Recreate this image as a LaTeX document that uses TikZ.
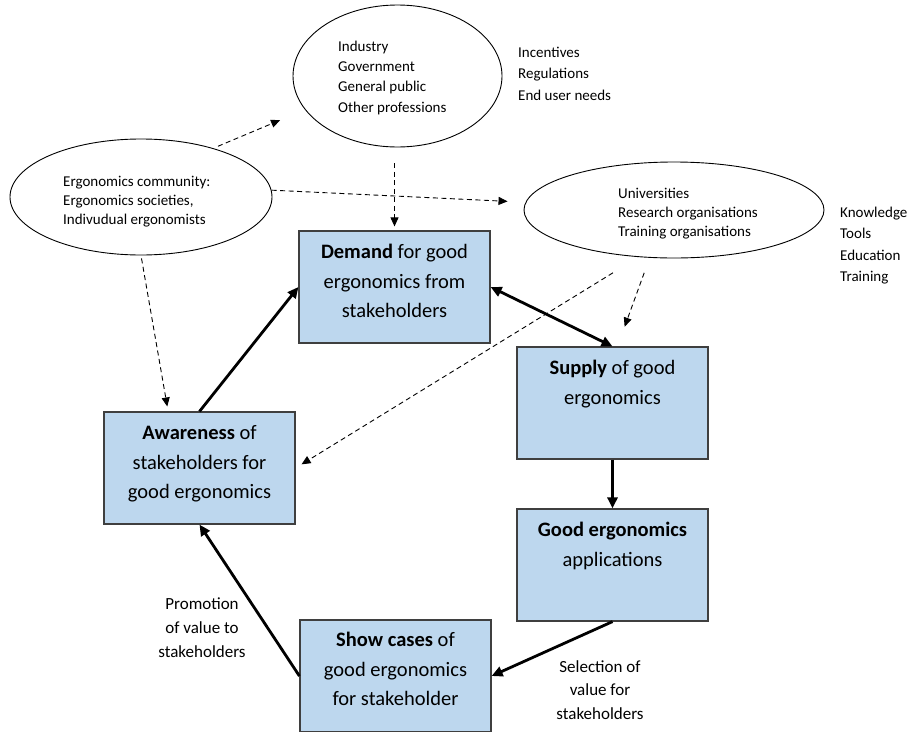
\documentclass[tikz,border=0pt]{standalone}
\usepackage{fontspec}
\setmainfont{Carlito}
\usetikzlibrary{arrows.meta,shapes.geometric}

\definecolor{boxblue}{HTML}{BDD7EE}
\definecolor{boxline}{HTML}{3F3F3F}

\tikzset{
	stepbox/.style={draw=boxline, fill=boxblue, line width=1.2pt, minimum width=191pt, minimum height=112pt, inner sep=0pt},
	boxtext/.style={font=\fontsize{20.5}{29.5}\selectfont, align=center, anchor=base, inner sep=0pt},
	oval/.style={draw, ellipse, line width=0.9pt, inner sep=0pt},
	smalltext/.style={font=\fontsize{15}{20}\selectfont, align=left, anchor=base west, inner sep=0pt},
	labeltext/.style={font=\fontsize{17}{24}\selectfont, align=center, anchor=base, inner sep=0pt},
	flow/.style={line width=2.8pt, -{Triangle[length=11pt,width=10pt]}},
	dasharrow/.style={line width=0.9pt, dash pattern=on 5pt off 3.5pt, -{Triangle[length=9pt,width=8pt]}}
}

\begin{document}
\begin{tikzpicture}[x=1pt, y=-1pt]
	\useasboundingbox (0,0) rectangle (907,731);
	% boxes of the cycle (text placed by its last baseline)
	\foreach \n/\x/\y/\d/\txt in {
		demand/394.5/287/87.5/{\textbf{Demand} for good\\ergonomics from\\stakeholders},
		aware/199.5/468/87.5/{\textbf{Awareness} of\\stakeholders for\\good ergonomics},
		supply/612.5/403/58/{\textbf{Supply} of good\\ergonomics},
		good/612.5/565/58/{\textbf{Good ergonomics}\\applications},
		show/395.5/676/86.5/{\textbf{Show cases} of\\good ergonomics\\for stakeholder}} {
		\node (\n) [stepbox] at (\x, \y) {};
		\node (\n txt) [boxtext] at ([yshift=-\d pt]\n.north) {\txt};
	}
	% stakeholder groups
	\node (stake) [oval, minimum width=209pt, minimum height=142pt] at (397.5, 76) {};
	\node (comm) [oval, minimum width=262pt, minimum height=116pt] at (141, 197) {};
	\node (univ) [oval, minimum width=300pt, minimum height=96pt] at (674, 210) {};
	\node (staketxt) [smalltext, font=\fontsize{15}{20.3}\selectfont] at (338, 112) {Industry\\Government\\General public\\Other professions};
	\node (commtxt) [smalltext, font=\fontsize{15}{19}\selectfont] at (63, 224) {Ergonomics community:\\Ergonomics societies,\\Indivudual ergonomists};
	\node (univtxt) [smalltext, font=\fontsize{15}{19}\selectfont] at (618, 236) {Universities\\Research organisations\\Training organisations};
	\node (incent) [smalltext, font=\fontsize{15}{21.5}\selectfont] at (518, 100) {Incentives\\Regulations\\End user needs};
	\node (know) [smalltext, font=\fontsize{15}{21.5}\selectfont] at (840, 281.5) {Knowledge\\Tools\\Education\\Training};
	\node (promo) [labeltext] at (202, 657) {Promotion\\of value to\\stakeholders};
	\node (select) [labeltext, font=\fontsize{17}{23.5}\selectfont] at (600, 719) {Selection of\\value for\\stakeholders};
	% cycle
	\draw [flow] (aware.north) -- (demand.west);
	\draw [flow, {Triangle[length=11pt,width=10pt]}-{Triangle[length=11pt,width=10pt]}] (demand.east) -- (supply.north);
	\draw [flow] (supply.south) -- (good.north);
	\draw [flow] (good.south) -- (show.east);
	\draw [flow] (show.west) -- (aware.south);
	% influences
	\draw [dasharrow, shorten <=5pt, shorten >=27pt] (comm.34) -- (stake.200);
	\draw [dasharrow, shorten <=16pt, shorten >=4pt] (demand.north |- stake.south) -- (demand.north);
	\draw [dasharrow, shorten >=18pt] (comm.3) -- (univ.177);
	\draw [dasharrow, shorten <=3pt, shorten >=5pt] (comm.south) -- (aware.119);
	\draw [dasharrow, shorten <=30pt, shorten >=7pt] (univ.233) -- (aware.east);
	\draw [dasharrow, shorten <=16pt, shorten >=21pt] (univ.243) -- (supply.85);
\end{tikzpicture}
\end{document}
